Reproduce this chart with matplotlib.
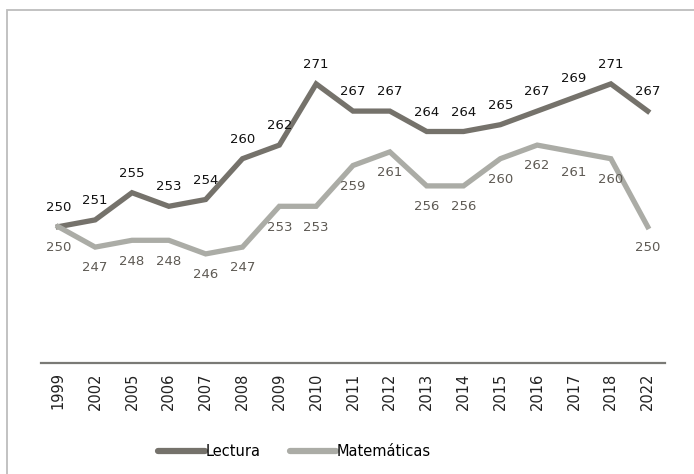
import matplotlib
matplotlib.use("Agg")
import matplotlib.pyplot as plt
from matplotlib.patches import Rectangle

years = ["1999", "2002", "2005", "2006", "2007", "2008", "2009", "2010", "2011",
         "2012", "2013", "2014", "2015", "2016", "2017", "2018", "2022"]
lectura = [250, 251, 255, 253, 254, 260, 262, 271, 267, 267, 264, 264, 265, 267, 269, 271, 267]
matematicas = [250, 247, 248, 248, 246, 247, 253, 253, 259, 261, 256, 256, 260, 262, 261, 260, 250]

col_lec = "#75726b"
col_mat = "#abaca6"

plt.rcParams['font.family'] = ['DejaVu Sans']

fig = plt.figure(figsize=(6.94, 4.74), dpi=100)
ax = fig.add_axes([41 / 694, 1 - 362.7 / 474, 624 / 694, (362.7 - 56.7) / 474])

x = list(range(len(years)))
ax.plot(x, lectura, color=col_lec, lw=3.8, label="Lectura", solid_joinstyle="miter")
ax.plot(x, matematicas, color=col_mat, lw=3.8, label="Matemáticas", solid_joinstyle="miter")

for i, v in enumerate(lectura):
    ax.annotate(str(v), (i, v), xytext=(0, 14), textcoords="offset points",
                ha="center", va="center", fontsize=9.5, color="#111111")
for i, v in enumerate(matematicas):
    ax.annotate(str(v), (i, v), xytext=(0, -15), textcoords="offset points",
                ha="center", va="center", fontsize=9.5, color="#5e5a54")

ax.set_xlim(-0.47, 16.47)
ax.set_ylim(230, 275)
ax.set_xticks(x)
ax.set_xticklabels(years, rotation=90, fontsize=10.5, color="#222222")
ax.tick_params(axis="x", length=0, pad=7)
ax.set_yticks([])
for s in ["top", "right", "left"]:
    ax.spines[s].set_visible(False)
ax.spines["bottom"].set_color("#7a7a76")
ax.spines["bottom"].set_linewidth(1.6)

leg = fig.legend(loc="center", bbox_to_anchor=(294.5 / 694, 1 - 452 / 474), ncol=2,
                 frameon=False, fontsize=10.5, handlelength=3.2, handletextpad=0.05,
                 columnspacing=2.0)
for h in leg.get_lines():
    h.set_linewidth(4.5)
    h.set_solid_capstyle("round")

fig.patches.append(Rectangle((7 / 694, -0.1), 1.2, 1 - 10 / 474 + 0.1,
                             transform=fig.transFigure, fill=False,
                             edgecolor="#bdbdbd", lw=1.3))

fig.savefig("out.png", dpi=100)
